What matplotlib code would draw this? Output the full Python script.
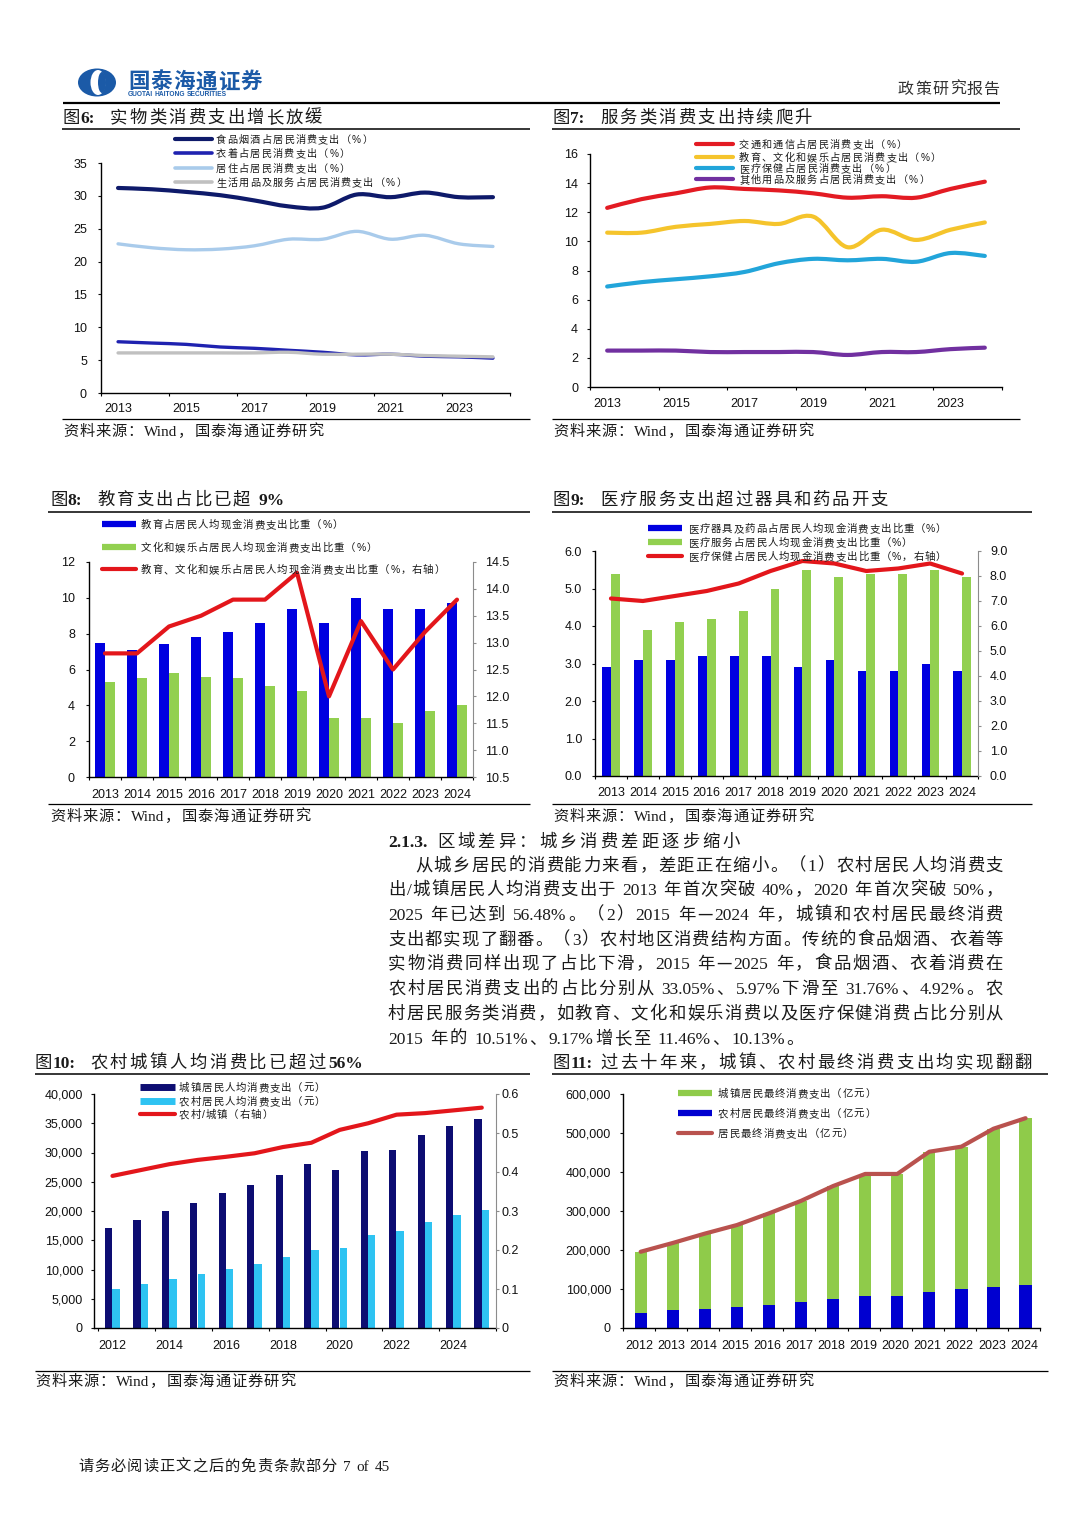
import re
import numpy as np
import matplotlib
matplotlib.use('Agg')
import matplotlib.pyplot as plt
from matplotlib.lines import Line2D
from matplotlib.path import Path
from matplotlib.patches import PathPatch, Ellipse
from matplotlib.ticker import FuncFormatter

plt.rcParams['font.family'] = ['Liberation Sans', 'Noto Sans CJK SC', 'DejaVu Sans']

# ---------------- data ----------------
years6 = list(range(2013, 2025))
food = [31.2, 31.0, 30.6, 30.1, 29.3, 28.4, 28.2, 30.2, 29.8, 30.5, 29.8, 29.8]
clothing = [7.8, 7.6, 7.4, 7.0, 6.8, 6.5, 6.2, 5.8, 5.9, 5.6, 5.5, 5.3]
housing = [22.7, 22.1, 21.8, 21.9, 22.4, 23.4, 23.4, 24.6, 23.4, 24.0, 22.7, 22.3]
daily = [6.1, 6.1, 6.1, 6.1, 6.1, 6.2, 5.9, 5.9, 5.9, 5.7, 5.6, 5.5]
labels6 = ['食品烟酒占居民消费支出（%）', '衣着占居民消费支出（%）',
           '居住占居民消费支出（%）', '生活用品及服务占居民消费支出（%）']

years7 = list(range(2013, 2025))
transport = [12.3, 12.9, 13.3, 13.7, 13.6, 13.5, 13.3, 13.0, 13.1, 13.0, 13.6, 14.1]
edu_cul = [10.6, 10.6, 11.0, 11.2, 11.4, 11.2, 11.7, 9.6, 10.8, 10.1, 10.8, 11.3]
healthcare = [6.9, 7.2, 7.4, 7.6, 7.9, 8.5, 8.8, 8.7, 8.8, 8.6, 9.2, 9.0]
others = [2.5, 2.5, 2.5, 2.4, 2.4, 2.4, 2.4, 2.2, 2.4, 2.4, 2.6, 2.7]
labels7 = ['交通和通信占居民消费支出（%）', '教育、文化和娱乐占居民消费支出（%）',
           '医疗保健占居民消费支出（%）', '其他用品及服务占居民消费支出（%）']

cats8 = [str(y) for y in range(2013, 2025)]
edu_share = [7.5, 7.1, 7.4, 7.8, 8.1, 8.6, 9.4, 8.6, 10.0, 9.4, 9.4, 9.7]
culture_share = [5.3, 5.5, 5.8, 5.6, 5.5, 5.1, 4.8, 3.3, 3.3, 3.0, 3.7, 4.0]
edu_culture_total = [12.8, 12.8, 13.3, 13.5, 13.8, 13.8, 14.3, 12.0, 13.4, 12.5, 13.2, 13.8]
labels8 = ['教育占居民人均现金消费支出比重（%）', '文化和娱乐占居民人均现金消费支出比重（%）',
           '教育、文化和娱乐占居民人均现金消费支出比重（%，右轴）']

cats9 = [str(y) for y in range(2013, 2025)]
med_goods = [2.9, 3.1, 3.1, 3.2, 3.2, 3.2, 2.9, 3.1, 2.8, 2.8, 3.0, 2.8]
med_service = [5.4, 3.9, 4.1, 4.2, 4.4, 5.0, 5.5, 5.3, 5.4, 5.4, 5.5, 5.3]
health_total = [7.1, 7.0, 7.2, 7.4, 7.7, 8.2, 8.6, 8.5, 8.2, 8.3, 8.5, 8.1]
labels9 = ['医疗器具及药品占居民人均现金消费支出比重（%）', '医疗服务占居民人均现金消费支出比重（%）',
           '医疗保健占居民人均现金消费支出比重（%，右轴）']

years10 = list(range(2012, 2026))
urban_pc = [17100, 18500, 19970, 21400, 23080, 24450, 26110, 28060, 27010, 30310, 30390, 32990, 34560, 35700]
rural_pc = [6670, 7490, 8380, 9220, 10130, 10950, 12120, 13330, 13710, 15920, 16630, 18180, 19280, 20100]
ratio_ru = [0.39, 0.405, 0.42, 0.431, 0.439, 0.448, 0.464, 0.475, 0.508, 0.525, 0.547, 0.551, 0.558, 0.565]
labels10 = ['城镇居民人均消费支出（元）', '农村居民人均消费支出（元）', '农村/城镇（右轴）']

years11 = list(range(2012, 2025))
urban_final = [156500, 171000, 192000, 210000, 234000, 259000, 289000, 314000, 314000, 359500, 365500, 406000, 428000]
rural_final = [39000, 47000, 50000, 54000, 60000, 67000, 75000, 81000, 81000, 92500, 99500, 105000, 110000]
total_final = [195500, 218000, 242000, 264000, 294000, 326000, 364000, 395000, 395000, 452000, 465000, 511000, 538000]
labels11 = ['城镇居民最终消费支出（亿元）', '农村居民最终消费支出（亿元）', '居民最终消费支出（亿元）']

para_lines = [
    '从城乡居民的消费能力来看，差距正在缩小。（1）农村居民人均消费支',
    '出/城镇居民人均消费支出于 2013 年首次突破 40%，2020 年首次突破 50%，',
    '2025 年已达到 56.48%。（2）2015 年—2024 年，城镇和农村居民最终消费',
    '支出都实现了翻番。（3）农村地区消费结构方面。传统的食品烟酒、衣着等',
    '实物消费同样出现了占比下滑，2015 年—2025 年，食品烟酒、衣着消费在',
    '农村居民消费支出的占比分别从 33.05%、5.97%下滑至 31.76%、4.92%。农',
    '村居民服务类消费，如教育、文化和娱乐消费以及医疗保健消费占比分别从',
    '2015 年的 10.51%、9.17%增长至 11.46%、10.13%。',
]

# ---------------- figure helpers ----------------
W, H = 1080, 1527
fig = plt.figure(figsize=(W / 100, H / 100), dpi=100)
fig.patch.set_facecolor('white')
renderer = fig.canvas.get_renderer()
PX = 100 / 72.0


def add_ax(l, t, r, b):
    return fig.add_axes([l / W, 1 - b / H, (r - l) / W, (b - t) / H])


def fx(x):
    return x / W


def fy(y):
    return 1 - y / H


def hline(x0, x1, y, lw=1.0, color='black'):
    fig.add_artist(Line2D([fx(x0), fx(x1)], [fy(y), fy(y)], transform=fig.transFigure,
                          lw=lw, color=color, solid_capstyle='butt'))


def handle(x0, x1, y, color, lw, cap='butt'):
    fig.add_artist(Line2D([fx(x0), fx(x1)], [fy(y), fy(y)], transform=fig.transFigure,
                          lw=lw, color=color, solid_capstyle=cap, zorder=6))


TOK = re.compile(r' +|[!-~]+|.')


def draw_text(x, y, s, size, color='#1a1a1a', spacing=0.0, target=None, weight='normal',
              latin='Liberation Serif', cjk='Noto Sans CJK SC', latin_weight=None, zorder=7):
    toks = TOK.findall(s)
    items = []
    base = y + 0.38 * size * PX
    for tk in toks:
        if tk[0] == ' ':
            items.append((None, len(tk) * size * PX * 0.25))
            continue
        asc = tk[0] < '\u0080'
        fam = latin if asc else cjk
        w = (latin_weight or weight) if asc else weight
        t = fig.text(0, 0, tk, fontsize=size, family=fam, weight=w, color=color,
                     ha='left', va='baseline', zorder=zorder)
        items.append((t, t.get_window_extent(renderer).width))
    total = sum(i[1] for i in items)
    if target is not None and len(items) > 1:
        spacing = (target - total) / (len(items) - 1)
    cx = x
    for t, w in items:
        if t is not None:
            t.set_position((fx(cx), fy(base)))
        cx += w + spacing
    return cx


def smooth_path(xs, ys):
    verts = [(xs[0], ys[0])]
    codes = [Path.MOVETO]
    n = len(xs)
    for i in range(n - 1):
        p0 = i - 1 if i > 0 else i
        p3 = i + 2 if i + 2 < n else i + 1
        c1 = (xs[i] + (xs[i + 1] - xs[p0]) / 6.0, ys[i] + (ys[i + 1] - ys[p0]) / 6.0)
        c2 = (xs[i + 1] - (xs[p3] - xs[i]) / 6.0, ys[i + 1] - (ys[p3] - ys[i]) / 6.0)
        verts += [c1, c2, (xs[i + 1], ys[i + 1])]
        codes += [Path.CURVE4] * 3
    return Path(verts, codes)


def base_style(ax, ygap_px, xlab_center_off_px):
    for s in ['top', 'right']:
        ax.spines[s].set_visible(False)
    for s in ['left', 'bottom']:
        ax.spines[s].set_linewidth(1.0)
        ax.spines[s].set_color('black')
    ax.tick_params(axis='y', which='major', direction='out', length=3 / PX, width=0.8,
                   pad=(ygap_px - 3) / PX, labelsize=9, colors='#111')
    ax.tick_params(axis='x', which='major', direction='out', length=3 / PX, width=0.8,
                   labelbottom=False)
    ax.tick_params(axis='x', which='minor', length=0, pad=(xlab_center_off_px - 3.8) / PX,
                   labelsize=9, labelcolor='#111')
    ax.set_facecolor('none')


def style_right(ax2, gap_px):
    for s in ['top', 'left', 'bottom']:
        ax2.spines[s].set_visible(False)
    ax2.spines['right'].set_color('#8c8c8c')
    ax2.spines['right'].set_linewidth(0.8)
    ax2.tick_params(axis='y', direction='out', length=3 / PX, width=0.8, color='#8c8c8c',
                    pad=(gap_px - 3) / PX, labelsize=9, labelcolor='#111')


# ---------------- header ----------------
lax = add_ax(77, 68, 117, 97)
lax.set_xlim(0, 40)
lax.set_ylim(0, 29)
lax.axis('off')
lax.add_patch(Ellipse((20, 14.5), 38, 28, fc='#1B5AA7', ec='none'))
lax.add_patch(Ellipse((21, 14.5), 15, 25, fc='white', ec='none'))
lax.add_patch(Ellipse((25, 14.5), 8, 21, fc='#1B5AA7', ec='none'))
draw_text(128, 80, '国泰海通证券', 15.5, color='#1B5AA7', weight='bold', target=134)
draw_text(128, 93, 'GUOTAI HAITONG SECURITIES', 4.8, color='#1B5AA7', latin='Liberation Sans',
          latin_weight='bold')
draw_text(898, 88, '政策研究报告', 11.5, color='#333333', target=102)
hline(63, 1000, 103, lw=1.6)

# ---------------- titles / rules ----------------
def title(xp, xt, y, prefix, text, tw):
    draw_text(xp, y, prefix, 12.5, latin_weight='bold')
    draw_text(xt, y, text, 12.5, target=tw, latin_weight='bold')


title(63, 110, 116, '图6:', '实物类消费支出增长放缓', 212)
title(553, 600, 116, '图7:', '服务类消费支出持续爬升', 212)
hline(62, 530, 129, 1.1)
hline(552, 1020, 129, 1.1)
title(50, 97, 498, '图8:', '教育支出占比已超 9%', 188)
title(553, 600, 498, '图9:', '医疗服务支出超过器具和药品开支', 288)
hline(48, 530, 512, 1.1)
hline(552, 1032, 512, 1.1)
title(35, 90, 1061, '图10:', '农村城镇人均消费比已超过56%', 273)
title(553, 600, 1061, '图11:', '过去十年来，城镇、农村最终消费支出均实现翻翻', 432)
hline(35, 530, 1074, 1.1)
hline(552, 1048, 1074, 1.1)

src = '资料来源：Wind，国泰海通证券研究'
hline(62, 530, 419, 0.9)
hline(552, 1020, 419, 0.9)
draw_text(63, 430, src, 11, target=260)
draw_text(553, 430, src, 11, target=260)
hline(48, 530, 804, 0.9)
hline(552, 1032, 804, 0.9)
draw_text(50, 815, src, 11, target=260)
draw_text(553, 815, src, 11, target=260)
hline(35, 530, 1371, 0.9)
hline(552, 1048, 1371, 0.9)
draw_text(35, 1380, src, 11, target=260)
draw_text(553, 1380, src, 11, target=260)

# ---------------- chart 6 ----------------
ax6 = add_ax(101, 163, 510, 393)
ax6.set_xlim(2012.5, 2024.5)
ax6.set_ylim(0, 35)
cols6 = ['#0E1A6A', '#1F22B0', '#A9CBEB', '#C0C0C0']
lws6 = [3.0, 2.4, 2.4, 2.4]
for ys, c, lw in zip([food, clothing, housing, daily], cols6, lws6):
    ax6.add_patch(PathPatch(smooth_path(years6, ys), fill=False, edgecolor=c, lw=lw,
                            capstyle='round', joinstyle='round'))
ax6.set_yticks(np.arange(0, 36, 5))
ax6.set_xticks(np.arange(2012.5, 2025, 2))
ax6.set_xticks(years6[::2], minor=True)
ax6.set_xticklabels([str(y) for y in years6[::2]], minor=True)
base_style(ax6, 14, 14)
for i, (lab, c) in enumerate(zip(labels6, cols6)):
    yy = [139, 153, 168, 182][i]
    handle(175, 212, yy, c, 3.0 if i == 0 else 2.6, cap='round')
    draw_text(216, yy, lab, 7.3, spacing=1.2, latin='Liberation Sans')

# ---------------- chart 7 ----------------
ax7 = add_ax(590, 154, 1002, 387)
ax7.set_xlim(2012.5, 2024.5)
ax7.set_ylim(0, 16)
cols7 = ['#E31B23', '#F5C42C', '#22A5DA', '#7130A0']
for ys, c in zip([transport, edu_cul, healthcare, others], cols7):
    ax7.add_patch(PathPatch(smooth_path(years7, ys), fill=False, edgecolor=c, lw=3.0,
                            capstyle='round', joinstyle='round'))
ax7.set_yticks(np.arange(0, 17, 2))
ax7.set_xticks(np.arange(2012.5, 2025, 2))
ax7.set_xticks(years7[::2], minor=True)
ax7.set_xticklabels([str(y) for y in years7[::2]], minor=True)
base_style(ax7, 12, 15)
for i, (lab, c) in enumerate(zip(labels7, cols7)):
    yy = [144, 157, 168, 179][i]
    handle(696, 733, yy, c, 3.0, cap='round')
    draw_text(739, yy, lab, 7.3, spacing=1.2, latin='Liberation Sans')

# ---------------- chart 8 ----------------
BLUE = '#0000E0'
GREEN = '#92D050'
RED = '#E3161B'
ax8 = add_ax(89, 562, 473, 777)
x8 = np.arange(len(cats8))
ax8.bar(x8 - 0.155, edu_share, 0.31, color=BLUE, zorder=2)
ax8.bar(x8 + 0.155, culture_share, 0.31, color=GREEN, zorder=2)
ax8.set_xlim(-0.5, len(cats8) - 0.5)
ax8.set_ylim(0, 12)
ax8.set_yticks(np.arange(0, 13, 2))
ax8.set_xticks(np.arange(-0.5, len(cats8), 1))
ax8.set_xticks(x8, minor=True)
ax8.set_xticklabels(cats8, minor=True)
base_style(ax8, 14, 16)
ax8b = ax8.twinx()
ax8b.plot(x8, edu_culture_total, color=RED, lw=3.0, solid_joinstyle='round',
          solid_capstyle='round', zorder=3)
ax8b.set_ylim(10.5, 14.5)
ax8b.set_yticks(np.arange(10.5, 14.51, 0.5))
ax8b.yaxis.set_major_formatter(FuncFormatter(lambda v, p: '%.1f' % v))
style_right(ax8b, 12)
handle(102, 136, 524, BLUE, 4.5)
draw_text(141, 524, labels8[0], 7.5, spacing=0.95, latin='Liberation Sans')
handle(102, 136, 547, GREEN, 4.5)
draw_text(141, 547, labels8[1], 7.5, spacing=0.95, latin='Liberation Sans')
handle(102, 136, 569, RED, 3.0, cap='round')
draw_text(141, 569, labels8[2], 7.5, spacing=0.95, latin='Liberation Sans')

# ---------------- chart 9 ----------------
ax9 = add_ax(595, 551, 978, 776)
x9 = np.arange(len(cats9))
ax9.bar(x9 - 0.135, med_goods, 0.27, color=BLUE, zorder=2)
ax9.bar(x9 + 0.14, med_service, 0.28, color=GREEN, zorder=2)
ax9.set_xlim(-0.5, len(cats9) - 0.5)
ax9.set_ylim(0, 6)
ax9.set_yticks(np.arange(0, 6.01, 1))
ax9.yaxis.set_major_formatter(FuncFormatter(lambda v, p: '%.1f' % v))
ax9.set_xticks(np.arange(-0.5, len(cats9), 1))
ax9.set_xticks(x9, minor=True)
ax9.set_xticklabels(cats9, minor=True)
base_style(ax9, 13, 15)
ax9b = ax9.twinx()
ax9b.plot(x9, health_total, color=RED, lw=3.0, solid_joinstyle='round',
          solid_capstyle='round', zorder=3)
ax9b.set_ylim(0, 9)
ax9b.set_yticks(np.arange(0, 9.01, 1))
ax9b.yaxis.set_major_formatter(FuncFormatter(lambda v, p: '%.1f' % v))
style_right(ax9b, 12)
handle(648, 682, 528, BLUE, 4.5)
draw_text(688, 528, labels9[0], 7.5, spacing=0.95, latin='Liberation Sans')
handle(648, 682, 542, GREEN, 4.5)
draw_text(688, 542, labels9[1], 7.5, spacing=0.95, latin='Liberation Sans')
handle(648, 682, 556, RED, 3.0, cap='round')
draw_text(688, 556, labels9[2], 7.5, spacing=0.95, latin='Liberation Sans')

# ---------------- paragraph ----------------
draw_text(388, 840, '2.1.3.', 12.5, latin_weight='bold')
draw_text(437, 840, '区域差异：城乡消费差距逐步缩小', 12.5, weight='medium', target=303)
line_y = [864, 888, 913, 938, 962, 987, 1012, 1037]
for i, (ln, yy) in enumerate(zip(para_lines, line_y)):
    x0 = 415 if i == 0 else 388
    if i < len(para_lines) - 1:
        draw_text(x0, yy, ln, 12.5, target=1003 - x0)
    else:
        draw_text(x0, yy, ln, 12.5, spacing=1.6)

# ---------------- chart 10 ----------------
NAVY = '#0D0D72'
CYAN = '#2EC3F2'
ax10 = add_ax(94, 1094, 496, 1328)
x10 = np.arange(len(years10))
ax10.bar(x10 - 0.135, urban_pc, 0.25, color=NAVY, zorder=2)
ax10.bar(x10 + 0.125, rural_pc, 0.26, color=CYAN, zorder=2)
ax10.set_xlim(-0.65, len(years10) - 0.5)
ax10.set_ylim(0, 40000)
ax10.set_yticks(np.arange(0, 40001, 5000))
ax10.yaxis.set_major_formatter(FuncFormatter(lambda v, p: '{:,.0f}'.format(v)))
ax10.set_xticks(np.arange(-0.5, len(years10), 2))
ax10.set_xticks(x10[::2], minor=True)
ax10.set_xticklabels([str(y) for y in years10[::2]], minor=True)
base_style(ax10, 11, 16)
ax10b = ax10.twinx()
ax10b.plot(x10, ratio_ru, color=RED, lw=3.0, solid_joinstyle='round',
           solid_capstyle='round', zorder=3)
ax10b.set_ylim(0, 0.6)
ax10b.set_yticks(np.arange(0, 0.61, 0.1))
ax10b.yaxis.set_major_formatter(FuncFormatter(lambda v, p: '0' if abs(v) < 1e-9 else '%.1f' % v))
style_right(ax10b, 6)
handle(140, 175, 1087, NAVY, 5.0)
draw_text(179, 1087, labels10[0], 7.5, spacing=0.95, latin='Liberation Sans')
handle(140, 175, 1101, CYAN, 5.0)
draw_text(179, 1101, labels10[1], 7.5, spacing=0.95, latin='Liberation Sans')
handle(140, 175, 1114, RED, 3.0, cap='round')
draw_text(179, 1114, labels10[2], 7.5, spacing=0.95, latin='Liberation Sans')

# ---------------- chart 11 ----------------
G11 = '#8FCB4A'
B11 = '#0000D0'
L11 = '#B9524E'
ax11 = add_ax(623, 1094, 1040, 1328)
x11 = np.arange(len(years11))
ax11.bar(x11 + 0.05, rural_final, 0.38, color=B11, zorder=2)
ax11.bar(x11 + 0.05, urban_final, 0.38, bottom=rural_final, color=G11, zorder=2)
ax11.plot(x11 + 0.05, total_final, color=L11, lw=3.0, solid_joinstyle='round',
          solid_capstyle='round', zorder=3)
ax11.set_xlim(-0.5, len(years11) - 0.5)
ax11.set_ylim(0, 600000)
ax11.set_yticks(np.arange(0, 600001, 100000))
ax11.yaxis.set_major_formatter(FuncFormatter(lambda v, p: '{:,.0f}'.format(v)))
ax11.set_xticks(np.arange(-0.5, len(years11), 1))
ax11.set_xticks(x11, minor=True)
ax11.set_xticklabels([str(y) for y in years11], minor=True)
base_style(ax11, 12, 16)
handle(678, 712, 1093, G11, 4.5)
draw_text(718, 1093, labels11[0], 7.5, spacing=0.95, latin='Liberation Sans')
handle(678, 712, 1113, B11, 4.5)
draw_text(718, 1113, labels11[1], 7.5, spacing=0.95, latin='Liberation Sans')
handle(678, 712, 1133, L11, 3.0, cap='round')
draw_text(718, 1133, labels11[2], 7.5, spacing=0.95, latin='Liberation Sans')

# ---------------- footer ----------------
draw_text(78, 1465, '请务必阅读正文之后的免责条款部分 7 of 45', 11, target=312)

fig.savefig('out.png', dpi=100, facecolor='white')
